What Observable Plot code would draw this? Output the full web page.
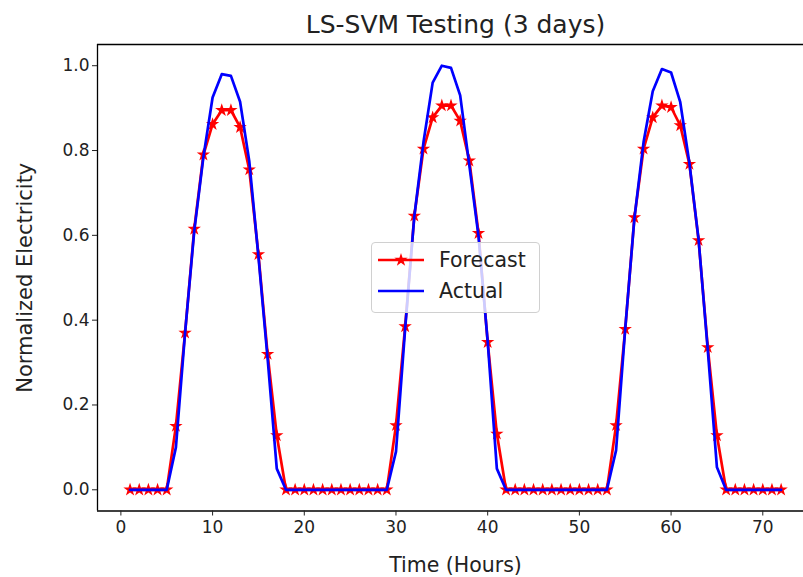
<!DOCTYPE html>
<html>
<head>
<meta charset="utf-8">
<script src="https://cdn.jsdelivr.net/npm/d3@7"></script>
<script src="https://cdn.jsdelivr.net/npm/@observablehq/plot@0.6"></script>
<style>
  html, body { margin: 0; padding: 0; background: #fff; }
  #wrap { position: relative; width: 803px; height: 577px; overflow: hidden; font-family: "DejaVu Sans", sans-serif; }
  #legend { position: absolute; left: 371px; top: 242px; width: 169px; height: 71px;
    border: 1px solid #d0d0d0; border-radius: 4px; background: rgba(255,255,255,0.8); box-sizing: border-box; }
  #legend .row { position: absolute; left: 0; height: 30px; display: flex; align-items: center; }
  #legend .lab { font-size: 20.5px; color: #222; margin-left: 13px; }
</style>
</head>
<body>
<div id="wrap"></div>
<script>
const title = "LS-SVM Testing (3 days)";
const xLabel = "Time (Hours)";
const yLabel = "Normalized Electricity";
const seriesNames = ["Forecast", "Actual"];
const seriesColors = ["#ff0000", "#0000ff"];
const xTicks = [0, 10, 20, 30, 40, 50, 60, 70];
const yTicks = [0.0, 0.2, 0.4, 0.6, 0.8, 1.0];

const hours = [1,2,3,4,5,6,7,8,9,10,11,12,13,14,15,16,17,18,19,20,21,22,23,24,
  25,26,27,28,29,30,31,32,33,34,35,36,37,38,39,40,41,42,43,44,45,46,47,48,
  49,50,51,52,53,54,55,56,57,58,59,60,61,62,63,64,65,66,67,68,69,70,71,72];

const forecast = [0,0,0,0,0, 0.150,0.370,0.615,0.790,0.862,0.895,0.895,0.855,0.755,0.555,0.320,0.128,
  0,0,0,0,0,0,0,0,0,0,0,0,
  0.152,0.385,0.646,0.804,0.878,0.906,0.906,0.870,0.776,0.605,0.348,0.132,
  0,0,0,0,0,0,0,0,0,0,0,0,
  0.152,0.379,0.642,0.804,0.878,0.906,0.902,0.859,0.768,0.588,0.336,0.128,
  0,0,0,0,0,0,0];

const actual = [0,0,0,0,0, 0.100,0.370,0.610,0.785,0.925,0.980,0.976,0.915,0.775,0.550,0.310,0.050,
  0,0,0,0,0,0,0,0,0,0,0,0,
  0.090,0.380,0.645,0.820,0.960,1.000,0.995,0.930,0.765,0.598,0.350,0.050,
  0,0,0,0,0,0,0,0,0,0,0,0,
  0.093,0.380,0.640,0.820,0.940,0.992,0.984,0.914,0.770,0.590,0.330,0.053,
  0,0,0,0,0,0,0];

const data = hours.map((h, i) => ({hour: h, forecast: forecast[i], actual: actual[i]}));

const xDomain = [-2.55, 74.44];
const yDomain = [-0.05, 1.05];

const chart = Plot.plot({
  width: 803,
  height: 577,
  marginLeft: 97,
  marginRight: 0,
  marginTop: 44,
  marginBottom: 66.5,
  x: {domain: xDomain},
  y: {domain: yDomain},
  style: {fontFamily: "DejaVu Sans", fontSize: "16px", color: "#222", background: "white", overflow: "visible"},
  marks: [
    Plot.ruleY([yDomain[0]], {stroke: "#000", strokeWidth: 1.3}),
    Plot.ruleY([yDomain[1]], {stroke: "#000", strokeWidth: 1.3}),
    Plot.ruleX([xDomain[0]], {stroke: "#000", strokeWidth: 1.3}),
    Plot.line(data, {x: "hour", y: "forecast", stroke: seriesColors[0], strokeWidth: 2.7}),
    Plot.dot(data, {x: "hour", y: "forecast", symbol: "star", fill: seriesColors[0], stroke: "none", r: 4.2}),
    Plot.line(data, {x: "hour", y: "actual", stroke: seriesColors[1], strokeWidth: 2.7}),
    Plot.axisX({ticks: xTicks, tickSize: 5, tickPadding: 5, label: null, fontSize: 17}),
    Plot.axisY({ticks: yTicks, tickSize: 5, tickPadding: 3, tickFormat: ".1f", label: null, fontSize: 17}),
    Plot.text([xLabel], {frameAnchor: "bottom", textAnchor: "middle", dx: 5, dy: 61, fontSize: 20.5, fill: "#222"}),
    Plot.text([yLabel], {frameAnchor: "left", textAnchor: "middle", dx: -72, rotate: -90, fontSize: 21, fill: "#222"}),
    Plot.text([title], {frameAnchor: "top", textAnchor: "middle", dx: 5, dy: -29, fontSize: 25, fill: "#222"})
  ]
});

const wrap = document.getElementById("wrap");
wrap.appendChild(chart);

// legend
const legend = document.createElement("div");
legend.id = "legend";
seriesNames.forEach((name, i) => {
  const row = document.createElement("div");
  row.className = "row";
  row.style.top = (i === 0 ? 2 : 33) + "px";
  const sw = d3.create("svg").attr("width", 54).attr("height", 30);
  sw.append("line").attr("x1", 6).attr("x2", 52).attr("y1", 15).attr("y2", 15)
    .attr("stroke", seriesColors[i]).attr("stroke-width", 2.7);
  if (i === 0) {
    sw.append("path").attr("d", d3.symbol(d3.symbolStar, Math.PI * 4.2 * 4.2)())
      .attr("transform", "translate(29,15)").attr("fill", seriesColors[i]);
  }
  row.appendChild(sw.node());
  const lab = document.createElement("span");
  lab.className = "lab";
  lab.textContent = name;
  row.appendChild(lab);
  legend.appendChild(row);
});
wrap.appendChild(legend);
</script>
</body>
</html>
